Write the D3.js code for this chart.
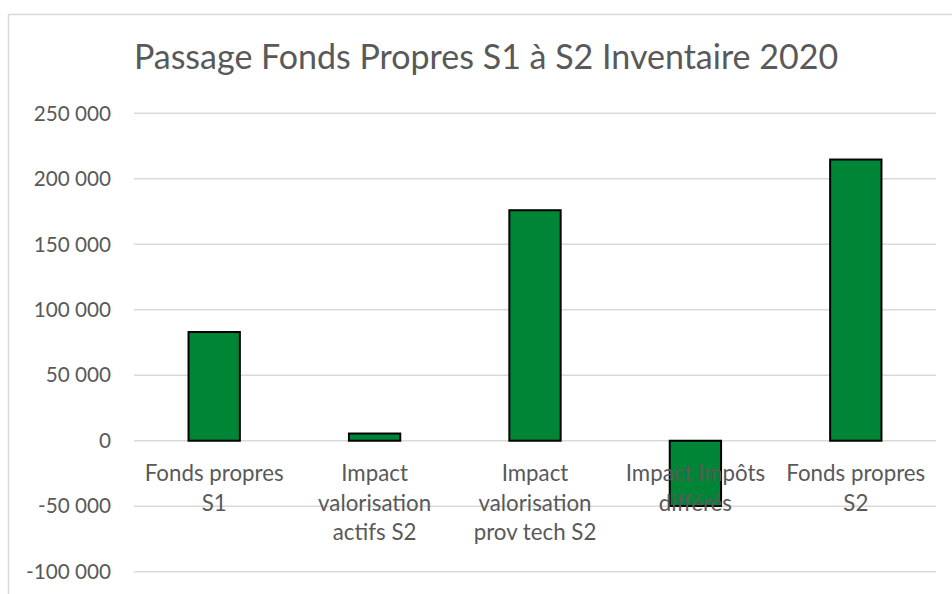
<!DOCTYPE html>
<html>
<head>
	<title>Passage Fonds Propres</title>
	<script type="text/javascript" src="https://d3js.org/d3.v7.min.js"></script>
	<style>
		body { margin: 0; background: #fff; }
		text { font-family: Lato, "Liberation Sans", sans-serif; fill: #595959; }
	</style>
</head>
<body>
	<script type="text/javascript">
		// chart values
		var categories = ["Fonds propres\nS1", "Impact\nvalorisation\nactifs S2", "Impact\nvalorisation\nprov tech S2", "Impact Impôts\ndifférés", "Fonds propres\nS2"];
		var values = [83000, 5500, 176000, -49800, 214700];
		var yTicks = [-100000, -50000, 0, 50000, 100000, 150000, 200000, 250000];
		var title = "Passage Fonds Propres S1 à S2 Inventaire 2020";

		var W = 952, H = 594;
		var svg = d3.select("body").append("svg").attr("width", W).attr("height", H);

		// chart frame
		svg.append("rect")
			.attr("x", 8.5).attr("y", 14.5)
			.attr("width", W + 10).attr("height", H + 10)
			.attr("fill", "#fff").attr("stroke", "#d9d9d9").attr("stroke-width", 1.5);

		svg.append("text")
			.attr("x", 486).attr("y", 69)
			.attr("text-anchor", "middle")
			.style("font-size", "34px")
			.text(title);

		var x = d3.scaleBand().domain(categories).range([134, 936]).paddingInner(0.68).paddingOuter(0.34);
		var y = d3.scaleLinear().domain([-100000, 250000]).range([571.7, 113.3]);

		// gridlines
		svg.selectAll("line.grid")
			.data(yTicks)
			.enter()
			.append("line")
			.attr("class", "grid")
			.attr("x1", 134).attr("x2", 936)
			.attr("y1", function (d){return y(d)})
			.attr("y2", function (d){return y(d)})
			.attr("stroke", "#d9d9d9").attr("stroke-width", 1.5);

		// y axis labels, space as thousands separator, plain hyphen for minus
		var fmt = function (d){ return d3.format(",")(d).replace(/,/g, " ").replace("\u2212", "-"); };
		svg.selectAll("text.ytick")
			.data(yTicks)
			.enter()
			.append("text")
			.attr("class", "ytick")
			.attr("x", 111)
			.attr("y", function (d){return y(d)})
			.attr("dy", "0.35em")
			.attr("text-anchor", "end")
			.style("font-size", "20.7px")
			.text(fmt);

		// bars
		svg.selectAll("rect.bar")
			.data(values)
			.enter()
			.append("rect")
			.attr("class", "bar")
			.attr("x", function (d, i){return x(categories[i])})
			.attr("width", x.bandwidth())
			.attr("y", function (d){return y(Math.max(0, d))})
			.attr("height", function (d){return Math.abs(y(d) - y(0))})
			.attr("fill", "#008537")
			.attr("stroke", "#000").attr("stroke-width", 2);

		// category labels
		var lab = svg.selectAll("text.xlab")
			.data(categories)
			.enter()
			.append("text")
			.attr("class", "xlab")
			.attr("text-anchor", "middle")
			.style("font-size", "22.3px")
			.attr("transform", function (d){return "translate(" + (x(d) + x.bandwidth() / 2) + ",481)"});

		lab.selectAll("tspan")
			.data(function (d){return d.split("\n")})
			.enter()
			.append("tspan")
			.attr("x", 0)
			.attr("dy", function (d, i){return i ? 29.5 : 0})
			.text(function (d){return d});
	</script>
</body>
</html>
